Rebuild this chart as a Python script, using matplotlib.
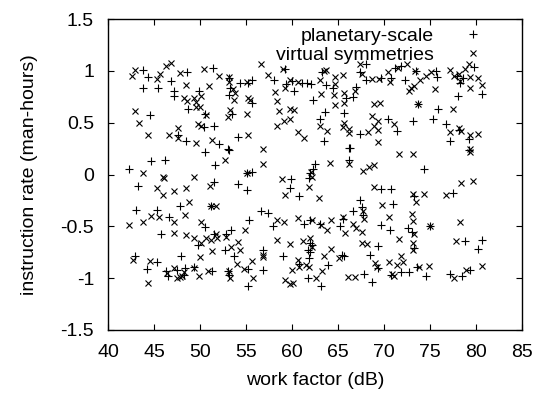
import matplotlib
matplotlib.use("Agg")
import matplotlib.pyplot as plt
from matplotlib.ticker import FuncFormatter

plt.rcParams['font.family'] = ['Liberation Sans', 'DejaVu Sans']
plt.rcParams['axes.unicode_minus'] = False

series_labels = ["planetary-scale", "virtual symmetries"]
x_ticks = [40, 45, 50, 55, 60, 65, 70, 75, 80, 85]
y_ticks = [-1.5, -1, -0.5, 0, 0.5, 1, 1.5]

planetary_scale = [
    (43.8,1.01),(44.3,0.94),(43.8,0.83),(46.9,0.90),(45.4,0.83),(47.2,0.81),(47.2,0.76),(48.6,0.99),(48.7,0.63),
    (49.9,0.81),(51.4,1.03),(53.2,0.93),(53.3,0.83),(53.1,0.77),(54.4,0.88),(55.2,0.88),(55.7,0.91),(55.6,0.69),
    (58.0,0.91),(59.2,1.02),(59.4,0.87),(60.0,0.90),(60.2,0.81),(61.1,0.88),(61.6,0.88),(62.1,0.87),(62.3,0.72),
    (63.3,0.99),(63.7,0.86),(64.5,0.83),(65.9,0.74),(66.6,0.75),(67.0,0.84),(67.4,0.99),(68.0,0.91),(68.0,1.07),
    (69.7,0.93),(70.8,0.93),(71.2,1.03),(71.8,1.05),(72.3,0.91),(73.5,1.00),(75.8,0.94),(75.6,1.00),(77.9,0.95),
    (78.3,0.88),(78.6,0.93),(79.8,1.04),(80.7,0.78),(78.0,0.76),
    (44.6,0.57),(47.6,0.38),(48.5,0.32),(50.4,0.46),(50.5,0.58),(51.5,0.47),(50.5,0.22),(52.1,0.29),(53.0,0.25),
    (53.2,0.24),(53.5,0.58),(54.1,0.36),(51.6,0.09),(63.0,0.54),(63.5,0.32),(63.6,0.60),(65.7,0.59),(66.2,0.26),
    (66.3,0.26),(66.2,0.14),(67.4,0.39),(70.4,0.54),(71.4,0.42),(73.1,0.52),(74.4,0.05),(73.7,0.68),(75.3,0.54),
    (75.9,0.63),(76.7,0.49),(77.2,0.32),(78.2,0.43),(79.2,0.34),(79.2,0.24),
    (42.3,0.05),(43.3,-0.11),(44.7,0.13),(46.2,0.14),(47.8,-0.30),(43.0,-0.34),(51.5,-0.07),(51.2,-0.30),(54.1,-0.09),
    (55.1,0.01),(55.7,0.02),(55.1,-0.15),(59.9,-0.04),(59.8,-0.13),(60.8,-0.21),(62.0,0.01),(61.9,-0.03),(62.3,0.05),
    (62.5,0.10),(69.7,-0.14),(70.8,-0.14),(71.0,-0.28),(73.3,-0.21),(77.5,-0.18),(67.4,-0.25),(67.6,-0.31),(66.6,-0.35),
    (45.3,-0.34),(46.6,-0.41),(45.8,-0.57),(50.5,-0.51),(49.8,-0.68),(51.5,-0.57),(52.8,-0.57),(53.4,-0.54),(52.7,-0.73),
    (55.3,-0.44),(56.6,-0.35),(57.4,-0.37),(57.9,-0.50),(61.3,-0.48),(62.0,-0.44),(63.0,-0.48),(65.5,-0.43),(65.2,-0.50),
    (67.7,-0.39),(69.4,-0.69),(69.7,-0.49),(70.7,-0.54),(72.6,-0.52),(73.0,-0.55),(73.3,-0.71),(75.0,-0.50),(78.8,-0.64),
    (80.6,-0.63),(80.2,-0.72),(61.7,-0.73),(62.0,-0.66),(62.2,-0.68),(62.0,-0.75),(56.9,-0.73),
    (42.9,-0.79),(44.2,-0.91),(45.3,-0.84),(46.3,-0.93),(46.5,-0.98),(47.5,-0.92),(47.9,-0.79),(48.3,-0.97),(48.4,-0.90),
    (49.3,-0.89),(51.3,-0.93),(53.0,-0.93),(53.1,-0.97),(53.7,-0.79),(55.2,-0.91),(55.2,-1.08),(56.9,-0.92),(59.0,-0.79),
    (60.8,-0.86),(61.9,-0.81),(61.7,-1.00),(63.2,-1.08),(63.9,-0.87),(65.4,-0.78),(65.7,-0.79),(67.8,-0.96),(68.5,-0.78),
    (69.3,-0.90),(68.7,-1.04),(70.8,-0.97),(71.9,-0.94),(72.7,-0.94),(73.6,-0.89),(74.6,-0.98),(77.2,-0.96),(78.5,-0.98),
    (79.3,-0.92),
]

virtual_symmetries = [
    (42.6,0.95),(42.9,1.01),(45.3,0.92),(45.7,0.97),(46.3,1.05),(46.9,1.08),(47.8,0.98),(48.3,0.74),(48.5,0.86),
    (48.6,0.71),(49.4,0.74),(49.6,0.70),(49.6,0.65),(50.0,0.65),(50.1,0.76),(50.4,1.02),(51.0,0.85),(52.1,0.95),
    (53.1,0.94),(53.2,0.89),(53.6,0.82),(53.7,0.72),(53.8,0.79),(55.1,0.89),(55.2,0.74),(55.4,0.72),(56.6,1.07),
    (57.4,0.96),(58.1,0.80),(58.4,0.71),(59.0,1.02),(59.2,0.83),(59.8,0.91),(60.6,0.89),(63.0,0.91),(63.1,0.78),
    (63.5,1.00),(63.7,1.01),(64.7,0.94),(64.7,0.87),(64.6,0.77),(64.7,0.67),(65.5,0.96),(65.7,0.79),(65.7,0.69),
    (66.8,0.81),(67.4,1.07),(67.6,0.97),(68.7,0.92),(69.5,0.92),(70.4,0.99),(70.7,0.89),(71.5,1.03),(72.5,1.07),
    (72.7,0.81),(72.9,0.83),(73.3,0.85),(73.4,1.00),(73.9,0.91),(74.6,0.95),(75.1,0.99),(75.5,0.82),(77.2,1.01),
    (77.6,0.95),(78.1,0.97),(78.3,0.90),(78.8,1.02),(79.2,1.07),(79.3,0.94),(79.3,0.83),(80.2,0.93),(80.6,0.86),
    (42.9,0.61),(43.4,0.50),(44.4,0.38),(46.6,0.38),(47.6,0.45),(47.6,0.35),(49.6,0.30),(49.8,0.49),(50.1,0.47),
    (50.6,0.57),(51.3,0.33),(52.7,0.14),(53.0,0.55),(53.3,0.62),(55.1,0.58),(55.2,0.38),(56.9,0.25),(56.8,0.10),
    (58.6,0.61),(58.4,0.47),(59.1,0.52),(59.8,0.63),(59.8,0.54),(60.2,0.62),(60.7,0.41),(61.3,0.35),(63.0,0.47),
    (63.8,0.42),(64.1,0.11),(65.5,0.46),(65.7,0.50),(66.2,0.44),(66.2,0.40),(66.2,0.10),(68.3,0.41),(68.7,0.56),
    (68.9,0.47),(69.3,0.52),(69.3,0.43),(69.4,0.31),(69.6,0.69),(68.9,0.68),(67.7,0.03),(68.4,0.07),(68.9,0.09),
    (71.1,0.49),(71.6,0.20),(73.2,0.20),(73.7,0.68),(77.2,0.41),(77.5,0.63),(78.1,0.45),(78.4,0.42),(79.3,0.38),
    (79.3,0.25),(79.3,0.22),(80.2,0.39),
    (43.8,0.01),(46.0,-0.02),(46.1,-0.03),(45.3,-0.13),(46.0,-0.20),(47.2,-0.16),(49.3,-0.02),(48.5,-0.13),(48.8,-0.27),
    (48.4,-0.39),(51.1,-0.11),(51.2,-0.30),(51.7,-0.30),(55.1,0.01),(58.9,-0.04),(59.2,-0.20),(61.8,-0.12),(62.2,-0.02),
    (62.1,0.02),(62.9,-0.23),(68.9,-0.12),(69.8,-0.29),(73.2,-0.19),(73.5,-0.27),(74.3,-0.19),(76.7,-0.20),(78.4,-0.08),
    (79.7,-0.06),(67.7,-0.35),
    (42.3,-0.49),(43.8,-0.46),(44.7,-0.40),(45.5,-0.41),(47.2,-0.46),(47.2,-0.56),(48.5,-0.58),(49.4,-0.61),(50.1,-0.46),
    (50.7,-0.61),(50.1,-0.66),(51.2,-0.63),(51.7,-0.57),(51.8,-0.61),(51.3,-0.74),(52.8,-0.60),(53.4,-0.70),(54.1,-0.65),
    (54.4,-0.73),(54.9,-0.54),(58.4,-0.44),(59.1,-0.46),(58.4,-0.63),(59.8,-0.67),(60.6,-0.42),(62.2,-0.44),(63.1,-0.49),
    (63.8,-0.54),(64.2,-0.44),(65.5,-0.41),(65.8,-0.56),(66.6,-0.48),(67.0,-0.52),(67.6,-0.55),(67.8,-0.43),(67.6,-0.66),
    (68.1,-0.67),(70.5,-0.41),(71.6,-0.62),(73.0,-0.38),(73.1,-0.45),(73.3,-0.57),(73.2,-0.66),(73.2,-0.73),(75.0,-0.50),
    (78.3,-0.46),(77.8,-0.64),(62.0,-0.61),(62.2,-0.70),(61.2,-0.64),(64.2,-0.72),
    (42.7,-0.82),(44.6,-0.83),(44.3,-1.05),(46.4,-0.95),(47.2,-0.90),(47.5,-1.00),(47.8,-0.99),(48.0,-0.98),(48.3,-0.94),
    (49.4,-0.90),(49.9,-0.98),(50.0,-0.80),(50.9,-0.93),(53.2,-0.93),(53.3,-1.00),(54.0,-0.86),(54.8,-0.91),(55.6,-0.83),
    (55.8,-1.00),(56.9,-0.78),(56.9,-0.80),(59.2,-1.02),(59.8,-1.06),(60.1,-1.05),(60.0,-0.92),(60.7,-0.82),(60.8,-0.89),
    (61.5,-0.87),(61.8,-0.89),(62.6,-1.00),(63.3,-0.93),(63.5,-0.79),(65.1,-0.81),(66.1,-0.99),(66.9,-0.99),(69.0,-0.85),
    (69.2,-0.89),(70.5,-0.84),(70.9,-0.96),(71.1,-0.98),(71.4,-0.87),(71.8,-0.79),(72.1,-0.84),(73.8,-0.89),(74.9,-0.88),
    (77.6,-1.00),(78.9,-0.92),(80.6,-0.88),
]

FS = 14

fig = plt.figure(figsize=(5.47, 3.94), dpi=100)
ax = fig.add_axes([108/547, 1 - 330/394, (522 - 108)/547, (330 - 19)/394])

px, py = zip(*planetary_scale)
vx, vy = zip(*virtual_symmetries)
ax.plot(px, py, linestyle='none', marker='+', markersize=5.5, markeredgewidth=0.8,
        color='black', label=series_labels[0])
ax.plot(vx, vy, linestyle='none', marker='x', markersize=4.5, markeredgewidth=0.8,
        color='black', label=series_labels[1])

ax.set_xlim(40, 85)
ax.set_ylim(-1.5, 1.5)
ax.set_xticks(x_ticks)
ax.set_yticks(y_ticks)
ax.yaxis.set_major_formatter(FuncFormatter(lambda v, p: f"{v:g}"))
ax.tick_params(direction='in', top=True, right=True, length=4, width=0.8,
               labelsize=FS, pad=10)
for s in ax.spines.values():
    s.set_linewidth(1.0)

ax.set_xlabel("work factor (dB)", fontsize=FS, labelpad=8)
ax.set_ylabel("instruction rate (man-hours)", fontsize=FS, labelpad=16)

leg = ax.legend(loc='upper right', bbox_to_anchor=(0.961, 1.012), frameon=False,
                markerfirst=False, fontsize=FS, handlelength=2.2,
                handletextpad=0.9, labelspacing=0.1, borderpad=0.1)
for t in leg.get_texts():
    t.set_ha('right')

fig.savefig("out.png", dpi=100)
